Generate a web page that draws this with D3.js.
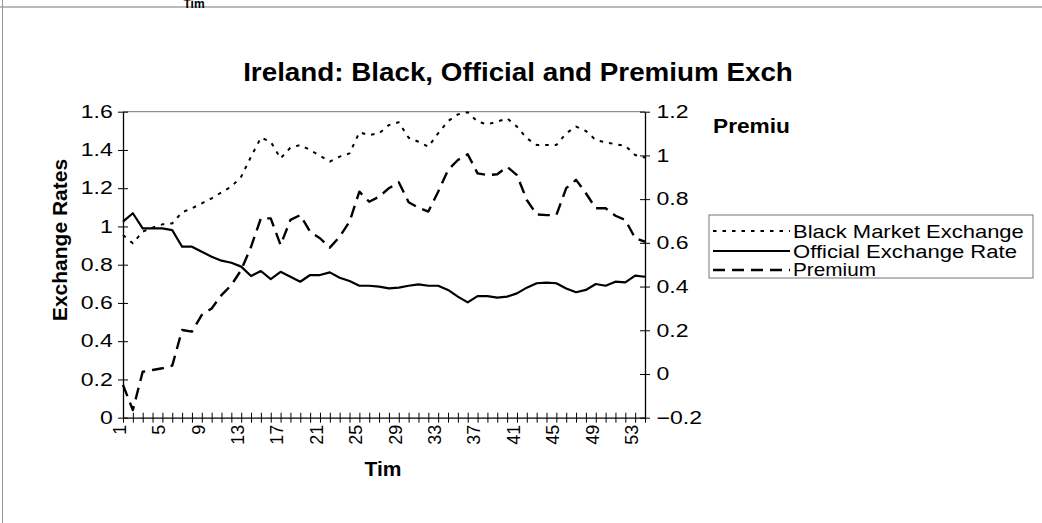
<!DOCTYPE html>
<html><head><meta charset="utf-8">
<script src="https://cdn.jsdelivr.net/npm/d3@7"></script>
<style>
body{margin:0;background:#fff;}
svg{display:block;font-family:Arial,"Liberation Sans",sans-serif;}
</style></head>
<body>
<script>
const periods = d3.range(1, 55);
const blackMarket = [0.955,0.912,0.973,0.994,1.011,1.016,1.074,1.095,1.121,1.147,1.178,1.208,1.26,1.365,1.464,1.443,1.356,1.412,1.426,1.40,1.37,1.339,1.365,1.382,1.492,1.478,1.487,1.53,1.545,1.464,1.443,1.417,1.487,1.551,1.586,1.597,1.548,1.534,1.548,1.565,1.522,1.461,1.426,1.426,1.426,1.487,1.522,1.499,1.452,1.44,1.43,1.422,1.374,1.36];
const official = [1.025,1.069,0.99,0.99,0.99,0.981,0.894,0.894,0.868,0.842,0.821,0.81,0.79,0.741,0.767,0.725,0.763,0.737,0.711,0.746,0.746,0.76,0.732,0.715,0.69,0.69,0.685,0.676,0.68,0.69,0.697,0.69,0.69,0.668,0.633,0.603,0.636,0.636,0.628,0.633,0.65,0.68,0.703,0.706,0.703,0.676,0.656,0.668,0.699,0.69,0.711,0.708,0.743,0.737];
const premium = [-0.05,-0.165,0.01,0.018,0.026,0.038,0.201,0.194,0.27,0.30,0.361,0.407,0.476,0.582,0.712,0.712,0.59,0.705,0.727,0.651,0.621,0.578,0.628,0.697,0.834,0.788,0.811,0.85,0.877,0.786,0.761,0.743,0.834,0.933,0.979,1.005,0.918,0.91,0.914,0.948,0.91,0.796,0.73,0.727,0.727,0.85,0.888,0.827,0.758,0.758,0.724,0.705,0.621,0.605];
const leftTicks = [0,0.2,0.4,0.6,0.8,1,1.2,1.4,1.6];
const rightTicks = [-0.2,0,0.2,0.4,0.6,0.8,1,1.2];
const xLabels = [1,5,9,13,17,21,25,29,33,37,41,45,49,53];
const seriesNames = ["Black Market Exchange","Official Exchange Rate","Premium"];

const W = 1042, H = 523;
const L = 123, R = 645, T = 111.7, B = 417.7;
const SX = 1.28; // horizontal stretch of tick lettering

const svg = d3.select("body").append("svg").attr("width", W).attr("height", H);

// text stretched horizontally so that its width matches the target width
function ftext(x, y, txt, size, bold, anchor, targetW) {
  const g = svg.append("g");
  const t = g.append("text").attr("x",0).attr("y",0).attr("text-anchor", anchor || "start")
    .attr("font-size", size).attr("font-weight", bold ? "bold" : "normal").attr("fill","#000").text(txt);
  const w = t.node().getComputedTextLength();
  const sx = targetW ? targetW / w : 1;
  g.attr("transform", `translate(${x},${y}) scale(${sx},1)`);
  return t;
}

// outer frame remnants
svg.append("line").attr("x1",0).attr("x2",W).attr("y1",7).attr("y2",7).attr("stroke","#777").attr("stroke-width",1.2);
svg.append("line").attr("x1",2.5).attr("x2",2.5).attr("y1",0).attr("y2",H).attr("stroke","#999").attr("stroke-width",1);
ftext(194, 8, "Tim", 12, true, "middle");

const x = d3.scaleLinear().domain([1, 54]).range([L, R]);
const yL = d3.scaleLinear().domain([0, 1.6]).range([B, T]);
const yR = d3.scaleLinear().domain([-0.2, 1.2]).range([B, T]);

// plot area top border
svg.append("line").attr("x1",L).attr("x2",R).attr("y1",T).attr("y2",T).attr("stroke","#777").attr("stroke-width",1);

// Title
ftext(518, 81, "Ireland: Black, Official and Premium Exch", 25, true, "middle", 550);

// Left axis
const gL = svg.append("g").attr("transform",`translate(${L},0)`)
  .call(d3.axisLeft(yL).tickValues(leftTicks).tickFormat(d3.format("~g")).tickSizeInner(5).tickSizeOuter(0).tickPadding(3));
gL.selectAll(".tick line").attr("x2",5).attr("x1",-5);
gL.selectAll(".tick text").attr("transform",`scale(${SX},1)`);
// Right axis
const gR = svg.append("g").attr("transform",`translate(${R},0)`)
  .call(d3.axisRight(yR).tickValues(rightTicks).tickFormat(d3.format("~g")).tickSizeInner(5).tickSizeOuter(0).tickPadding(4));
gR.selectAll(".tick line").attr("x1",-5).attr("x2",5);
gR.selectAll(".tick text").attr("transform",`scale(${SX},1)`);
// Bottom axis
const gB = svg.append("g").attr("transform",`translate(0,${B})`)
  .call(d3.axisBottom(x).tickValues(periods).tickFormat(d => xLabels.includes(d) ? d : "").tickSizeInner(5).tickSizeOuter(0).tickPadding(6));
gB.selectAll(".tick line").attr("y1",-5).attr("y2",5);

[gL,gR,gB].forEach(g=>{
  g.selectAll(".domain").attr("stroke","#000").attr("stroke-width",1.3);
  g.selectAll(".tick line").attr("stroke","#000").attr("stroke-width",1);
  g.selectAll("text").attr("font-size",18).attr("fill","#000").attr("font-family","Arial, 'Liberation Sans', sans-serif");
});
gB.selectAll(".tick text").attr("transform","rotate(-90)").attr("text-anchor","end")
  .attr("x",-7).attr("y",-4).attr("dy","0.35em").attr("font-size",18);

// axis titles
svg.append("g").attr("transform",`translate(67,240) rotate(-90)`)
  .append("text").attr("text-anchor","middle").attr("font-weight","bold").attr("font-size",21).text("Exchange Rates");
ftext(383, 476, "Tim", 21, true, "middle");
ftext(713, 133, "Premiu", 20, true, "start", 77);

// lines
const styles = [
  {data: blackMarket, y: yL, dash: "3.5,6", w: 2},
  {data: official, y: yL, dash: null, w: 2.2},
  {data: premium, y: yR, dash: "12,7", w: 2.4}
];
styles.forEach(s=>{
  const line = d3.line().x((d,i)=>x(periods[i])).y(d=>s.y(d));
  svg.append("path").datum(s.data).attr("d",line).attr("fill","none")
    .attr("stroke","#000").attr("stroke-width",s.w).attr("stroke-dasharray",s.dash)
    .attr("stroke-linejoin","round");
});

// legend
svg.append("rect").attr("x",709).attr("y",215).attr("width",324).attr("height",63)
  .attr("fill","#fff").attr("stroke","#777").attr("stroke-width",1);
const lineY = [231, 251, 270];
const textY = [237.5, 257.5, 276];
const textW = [231, 224, 83];
styles.forEach((s,i)=>{
  svg.append("line").attr("x1",713).attr("x2",790).attr("y1",lineY[i]).attr("y2",lineY[i])
    .attr("stroke","#000").attr("stroke-width",s.w).attr("stroke-dasharray",s.dash);
  ftext(793, textY[i], seriesNames[i], 18, false, "start", textW[i]);
});
</script>
</body></html>
